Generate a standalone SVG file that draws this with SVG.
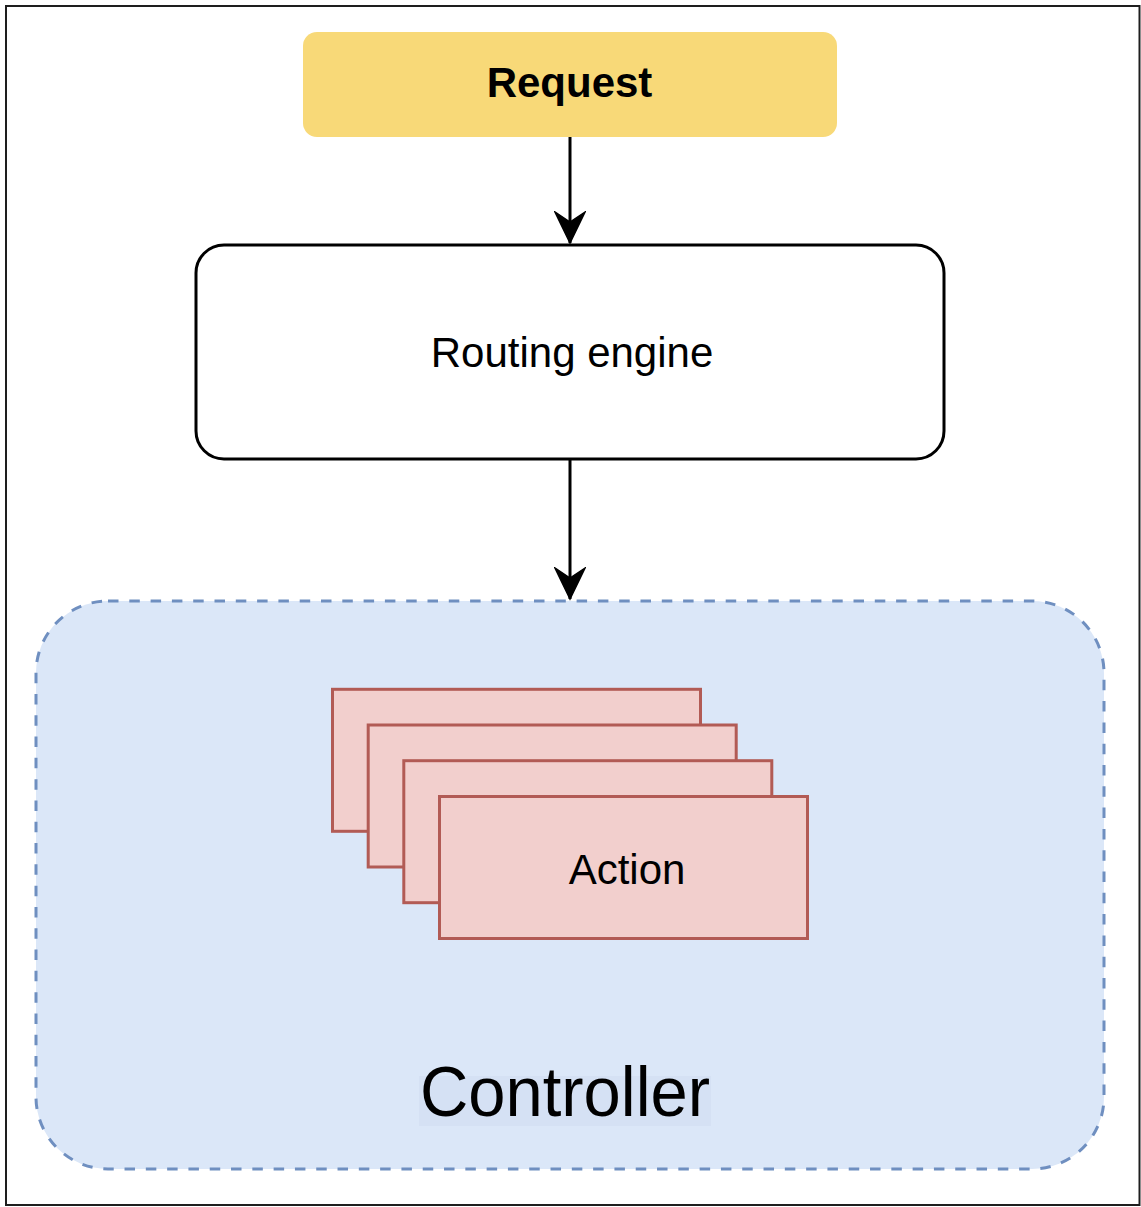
<svg xmlns="http://www.w3.org/2000/svg" width="1141" height="1207" viewBox="0 0 1141 1207">
  <style>
    .lbl { font-family: "Liberation Sans", Arial, Helvetica, sans-serif; fill: #000; text-anchor: middle; }
    .conn { stroke: #000; stroke-width: 3; fill: none; }
    .action { fill: #f2cfcd; stroke: #b25b55; stroke-width: 3; }
  </style>
  <defs>
    <marker id="arrow" markerUnits="userSpaceOnUse" markerWidth="34" markerHeight="32" refX="32" refY="16" orient="auto" viewBox="0 0 34 32">
      <path d="M1,1 L11,16 L1,31 L32,16 Z" fill="#000" stroke="#000" stroke-width="1.5" stroke-linejoin="miter"/>
    </marker>
  </defs>
  <rect x="0" y="0" width="1141" height="1207" fill="#fff"/>
  <rect x="6" y="6" width="1133.5" height="1199" fill="none" stroke="#1e1e1e" stroke-width="2"/>

  <g id="controller">
    <rect x="36" y="601" width="1068" height="568" rx="72" ry="72" fill="#dbe7f8" stroke="#6f8fc0" stroke-width="3" stroke-dasharray="10.5 10.8"/>
    <rect x="419" y="1076" width="292" height="50" fill="#d5e1f4"/>
    <text class="lbl" x="565" y="1116" font-size="70" textLength="290" lengthAdjust="spacingAndGlyphs">Controller</text>
  </g>

  <g id="action-stack">
    <rect class="action" x="332.5" y="689.3" width="368" height="142"/>
    <rect class="action" x="368.2" y="725" width="368" height="142"/>
    <rect class="action" x="403.8" y="760.7" width="368" height="142"/>
  </g>
  <g id="action">
    <rect class="action" x="439.5" y="796.5" width="368" height="142"/>
    <text class="lbl" x="627" y="884" font-size="42">Action</text>
  </g>

  <g id="request">
    <rect x="303" y="32" width="534" height="105" rx="14" ry="14" fill="#f8d978"/>
    <text class="lbl" x="569.5" y="97" font-size="42" font-weight="bold">Request</text>
  </g>

  <g id="routing-engine">
    <rect x="196" y="245" width="748" height="214" rx="28" ry="28" fill="#fff" stroke="#000" stroke-width="3"/>
    <text class="lbl" x="572" y="367" font-size="42">Routing engine</text>
  </g>

  <g id="connectors">
    <line class="conn" x1="570" y1="137" x2="570" y2="243" marker-end="url(#arrow)"/>
    <line class="conn" x1="570" y1="459" x2="570" y2="599" marker-end="url(#arrow)"/>
  </g>
</svg>
